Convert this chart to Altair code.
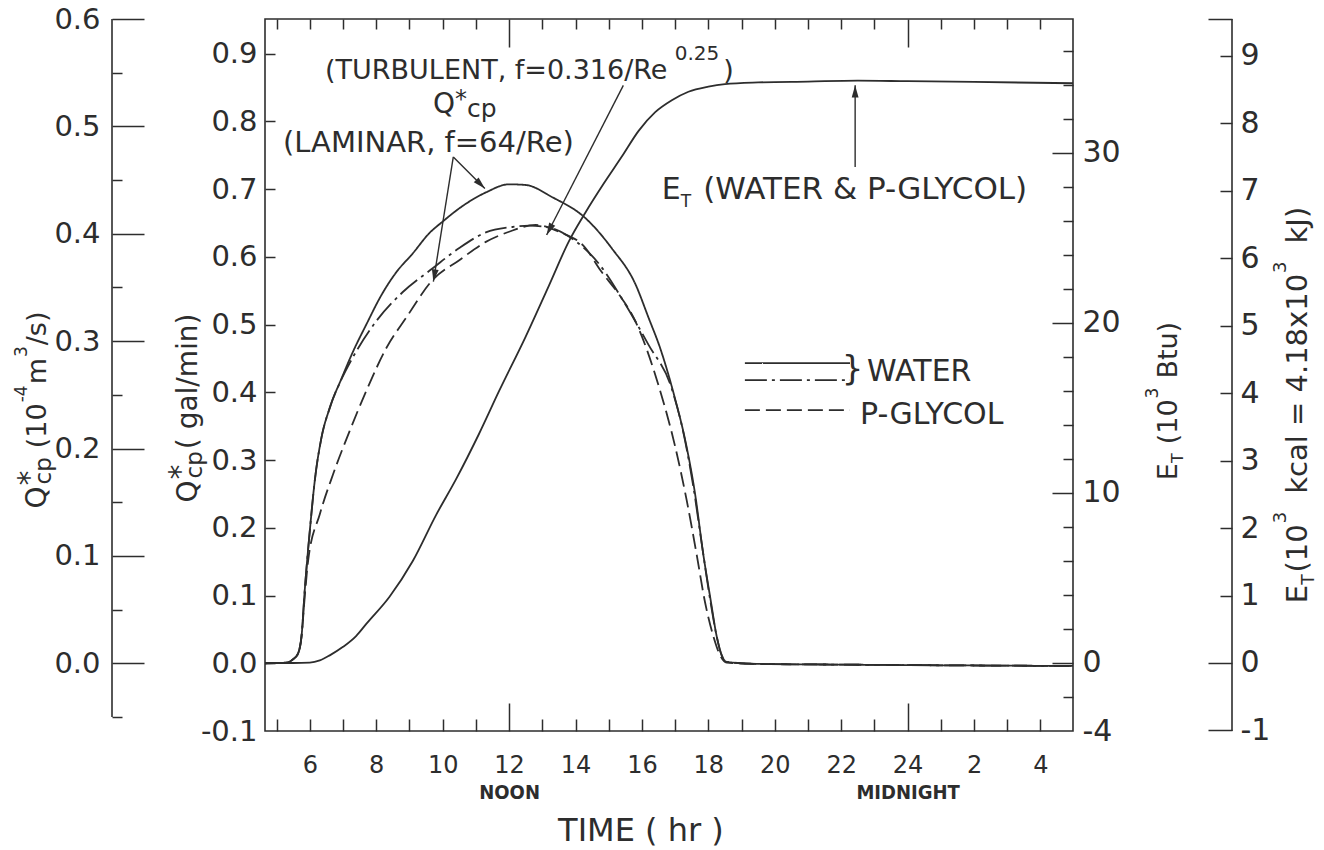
import math
import altair as alt
import pandas as pd

INK = "#2d2d2d"
FONT = "DejaVu Sans"
NARROW = "Liberation Sans Narrow, DejaVu Sans Condensed, sans-serif"

# plot area in pixels
W, H = 808, 712

# ------------------------------------------------------------------ data
# hour of day (24 = midnight, 28 = 4 a.m. of the next day)
lam_water_t = [4.65, 5.3, 5.5, 5.65, 5.75, 5.85, 6.0, 6.15, 6.35, 6.6, 6.96, 7.3, 7.7,
               8.15, 8.6, 9.1, 9.6, 10.0, 10.6, 11.3, 12.0, 12.5, 13.3, 14.3, 15.1, 15.8,
               16.2, 16.55, 17.0, 17.3, 17.6, 17.85, 18.07, 18.25, 18.4, 18.55, 19.5,
               22.0, 25.0, 28.98]
lam_water_q = [0.0, 0.001, 0.006, 0.015, 0.04, 0.11, 0.196, 0.27, 0.333, 0.377, 0.421,
               0.46, 0.50, 0.543, 0.577, 0.605, 0.635, 0.652, 0.675, 0.695, 0.707, 0.706,
               0.688, 0.657, 0.612, 0.56, 0.51, 0.465, 0.39, 0.33, 0.25, 0.16, 0.093,
               0.04, 0.012, 0.002, -0.001, -0.002, -0.003, -0.004]

turb_water_t = [4.65, 5.3, 5.5, 5.65, 5.75, 5.85, 6.0, 6.15, 6.35, 6.6, 6.96, 7.3, 8.0,
                8.8, 9.7, 10.5, 11.3, 12.1, 12.6, 13.3, 13.8, 14.7, 15.5, 16.2, 16.9,
                17.25, 17.55, 17.82, 18.05, 18.25, 18.4, 18.55, 19.5, 22.0, 25.0, 28.98]
turb_water_q = [0.0, 0.001, 0.006, 0.015, 0.04, 0.11, 0.196, 0.27, 0.333, 0.377, 0.42,
                0.452, 0.505, 0.548, 0.583, 0.613, 0.636, 0.644, 0.646, 0.642, 0.63,
                0.59, 0.53, 0.47, 0.405, 0.34, 0.26, 0.17, 0.095, 0.04, 0.012, 0.002,
                -0.001, -0.002, -0.003, -0.004]

glycol_t = [4.65, 5.3, 5.5, 5.65, 5.75, 5.85, 5.95, 6.3, 6.7, 7.2, 7.7, 8.3, 8.9, 9.7,
            10.5, 11.3, 12.0, 12.8, 13.5, 14.3, 14.75, 15.3, 15.75, 16.55, 17.0, 17.35,
            17.65, 17.9, 18.15, 18.35, 18.55, 19.5, 22.0, 25.0, 28.98]
glycol_q = [0.0, 0.001, 0.006, 0.015, 0.04, 0.1, 0.152, 0.22, 0.279, 0.343, 0.402, 0.465,
            0.51, 0.566, 0.595, 0.622, 0.637, 0.647, 0.637, 0.613, 0.58, 0.545, 0.51,
            0.402, 0.32, 0.24, 0.16, 0.09, 0.04, 0.012, 0.001, -0.001, -0.002, -0.003,
            -0.004]

energy_t = [4.65, 5.5, 6.0, 6.3, 6.6, 7.0, 7.4, 7.7, 8.4, 9.1, 9.8, 10.4, 11.1, 11.7,
            12.5, 13.2, 13.8, 14.3, 14.85, 15.4, 15.9, 16.4, 16.9, 17.4, 18.0, 18.5,
            19.5, 21.0, 22.5, 24.0, 26.0, 28.98]
energy_btu = [0.0, 0.0, 0.02, 0.15, 0.45, 0.95, 1.6, 2.3, 3.9, 6.0, 8.7, 10.8, 13.5, 16.0,
              19.2, 22.2, 24.8, 26.5, 28.2, 29.8, 31.3, 32.4, 33.1, 33.6, 33.9, 34.05,
              34.15, 34.2, 34.25, 34.22, 34.18, 34.1]

SERIES = ["water, laminar", "water, turbulent", "p-glycol, laminar"]
SERIES_DASH = [[1, 0], [22, 5, 3, 5], [15, 6]]

# legend key positions (time, flow)
legend_t0, legend_t1 = 19.10, 22.265
legend_q = [0.4430, 0.4180, 0.3737]

# arrows: tail -> tip in (time, flow)
arrow_tail_t = [10.32, 10.32, 15.44, 22.42]
arrow_tail_q = [0.7474, 0.7474, 0.853, 0.7327]
arrow_tip_t = [11.27, 9.72, 13.13, 22.42]
arrow_tip_q = [0.7008, 0.5635, 0.6322, 0.8533]

# ------------------------------------------------------------- scales / ticks
GPM_TO_1E4M3S = 0.6309         # 1 gal/min = 0.6309e-4 m^3/s
BTU_TO_KCAL = 0.252            # 10^3 Btu = 0.252e3 kcal
T_DOM = [4.65, 28.98]          # hours
M_TOP = 0.6                    # top of the plot in 10^-4 m^3/s
Q_DOM = [-0.1, M_TOP / GPM_TO_1E4M3S]   # gal/min
M_DOM = [Q_DOM[0] * GPM_TO_1E4M3S, M_TOP]
E_DOM = [-4.0, 37.88]          # 10^3 Btu
K_DOM = [v * BTU_TO_KCAL for v in E_DOM]

time_label_hours = list(range(6, 29, 2))
time_major_hours = [12, 24]
time_minor_hours = [h for h in range(5, 29) if h not in time_major_hours]
q_ticks = [round(-0.1 + 0.1 * i, 1) for i in range(11)]
btu_labels = [-4, 0, 10, 20, 30]
btu_major = [0, 10, 20, 30]
btu_minor = [v for v in range(-2, 38, 2) if v % 10]
m3_labels = [round(0.1 * i, 1) for i in range(7)]
m3_minor = [round(-0.05 + 0.1 * i, 2) for i in range(7)]
left_axis_span = [-0.05, M_TOP]
kcal_labels = list(range(-1, 10))
kcal_minor = list(range(1, 10))
kcal_major = [-1, 0, K_DOM[1]]

LEFT_AXIS_X = -153     # outer left axis, relative to plot area
RIGHT_AXIS_X = 967     # outer right axis, relative to plot area


def scale(dom):
    return alt.Scale(domain=dom, nice=False, zero=False)


def px(t):
    return (t - T_DOM[0]) / (T_DOM[1] - T_DOM[0]) * W


def py(q):
    return (Q_DOM[1] - q) / (Q_DOM[1] - Q_DOM[0]) * H


def one(v=0.0):
    return alt.Data(values=[{"v": v}])


def axis(**kw):
    base = dict(title=None, grid=False, domain=False, labelOverlap=False, labelFlush=False)
    base.update(kw)
    return alt.Axis(**base)


def ticks_only(orient, offset, values, size):
    return axis(orient=orient, offset=offset, values=values, ticks=True, tickSize=size,
                labels=False, tickColor=INK, tickWidth=1.5)


def y_holder(dom, ax):
    return alt.Chart(one(dom[0])).mark_point(opacity=0).encode(
        y=alt.Y("v:Q", scale=scale(dom), axis=ax))


def x_holder(ax):
    return alt.Chart(one(T_DOM[0])).mark_point(opacity=0).encode(
        x=alt.X("v:Q", scale=scale(T_DOM), axis=ax))


# approximate DejaVu Sans advance widths (em) for laying out mixed-size text
DJV = {" ": .318, "(": .390, ")": .390, "*": .5, ",": .318, "-": .361, ".": .318,
       "/": .337, "=": .838, "&": .780, "A": .684, "B": .686, "C": .698, "E": .632,
       "G": .775, "I": .295, "L": .557, "M": .863, "N": .748, "O": .787, "P": .603,
       "Q": .787, "R": .695, "T": .611, "U": .732, "W": .989, "Y": .611, "J": .295,
       "a": .613, "c": .550, "e": .615, "f": .352, "g": .635, "h": .634, "i": .278,
       "k": .579, "l": .278, "m": .974, "n": .634, "p": .635, "r": .411, "s": .521,
       "t": .392, "u": .634, "x": .592}


def tw(s, size):
    return sum(DJV.get(c, .636) for c in s) * size


def rich(pieces, where, angle=0, center=False):
    """pieces: (text, size, baseline shift, kern before, advances)"""
    data, enc = where
    total = sum(k + (tw(s, z) if adv else 0) for s, z, dy, k, adv in pieces)
    pos = -total / 2 if center else 0.0
    out = []
    for s, z, dy, k, adv in pieces:
        pos += k
        out.append(alt.Chart(data).mark_text(
            text=s, font=FONT, fontSize=z, color=INK, align="left",
            baseline="alphabetic", angle=angle, dx=pos, dy=dy).encode(**enc))
        if adv:
            pos += tw(s, z)
    return out


def at_px(x, y):
    return one(), dict(x=alt.value(x), y=alt.value(y))


def at_data(t, q):
    return (alt.Data(values=[{"t": t, "q": q}]),
            dict(x=alt.X("t:Q", scale=scale(T_DOM), axis=None),
                 y=alt.Y("q:Q", scale=scale(Q_DOM), axis=None)))


dash_scale = alt.Scale(domain=SERIES, range=SERIES_DASH)
minus_fix = "replace(format(datum.value, '{}'), '\u2212', '-')"

# ------------------------------------------------------------------ curves
df_q = pd.DataFrame({
    "t": lam_water_t + turb_water_t + glycol_t,
    "q": lam_water_q + turb_water_q + glycol_q,
    "s": [SERIES[0]] * len(lam_water_t) + [SERIES[1]] * len(turb_water_t)
         + [SERIES[2]] * len(glycol_t),
})
q_lines = alt.Chart(df_q).mark_line(interpolate="monotone", strokeWidth=1.8, color=INK).encode(
    x=alt.X("t:Q", scale=scale(T_DOM), axis=axis(
        orient="bottom", values=time_label_hours,
        labelExpr="'' + (datum.value > 24 ? datum.value - 24 : datum.value)",
        labelFontSize=24, labelBaseline="alphabetic", labelPadding=41,
        ticks=False, tickSize=0)),
    y=alt.Y("q:Q", scale=scale(Q_DOM), axis=axis(
        orient="left", values=q_ticks, labelExpr=minus_fix.format(".1f"),
        labelFontSize=29, labelPadding=8, ticks=False, tickSize=0)),
    strokeDash=alt.StrokeDash("s:N", scale=dash_scale, legend=None),
)

df_e = pd.DataFrame({"t": energy_t, "e": energy_btu})
e_line = alt.Chart(df_e).mark_line(interpolate="monotone", strokeWidth=1.8, color=INK).encode(
    x=alt.X("t:Q", scale=scale(T_DOM), axis=None),
    y=alt.Y("e:Q", scale=scale(E_DOM), axis=axis(
        orient="right", values=btu_labels, labelExpr=minus_fix.format("d"),
        labelFontSize=30, labelPadding=9, ticks=False, tickSize=0)),
)

# ------------------------------------------------------------------ legend key
df_leg = pd.DataFrame({"t0": [legend_t0] * 3, "t1": [legend_t1] * 3,
                       "q": legend_q, "s": SERIES})
legend_lines = alt.Chart(df_leg).mark_rule(strokeWidth=1.8, color=INK).encode(
    x=alt.X("t0:Q", scale=scale(T_DOM), axis=None), x2="t1:Q",
    y=alt.Y("q:Q", scale=scale(Q_DOM), axis=None),
    strokeDash=alt.StrokeDash("s:N", scale=dash_scale, legend=None),
)

# ------------------------------------------------------------------ arrows
angles = []
for t0, q0, t1, q1 in zip(arrow_tail_t, arrow_tail_q, arrow_tip_t, arrow_tip_q):
    dx, dy = px(t1) - px(t0), py(q1) - py(q0)
    angles.append(math.degrees(math.atan2(dx, -dy)) % 360)
df_arrow = pd.DataFrame({"t0": arrow_tail_t, "q0": arrow_tail_q,
                         "t1": arrow_tip_t, "q1": arrow_tip_q, "a": angles})
arrow_shafts = alt.Chart(df_arrow).mark_rule(strokeWidth=1.4, color=INK).encode(
    x=alt.X("t0:Q", scale=scale(T_DOM), axis=None), x2="t1:Q",
    y=alt.Y("q0:Q", scale=scale(Q_DOM), axis=None), y2="q1:Q",
)
arrow_heads = alt.Chart(df_arrow).mark_point(
    shape="M0,0L-0.28,1L0.28,1Z", filled=True, size=600, color=INK, opacity=1
).encode(
    x=alt.X("t1:Q", scale=scale(T_DOM), axis=None),
    y=alt.Y("q1:Q", scale=scale(Q_DOM), axis=None),
    angle=alt.Angle("a:Q", scale=None),
)

# ------------------------------------------------------------------ axis furniture
axis_layers = [
    # inward ticks along the frame
    x_holder(ticks_only("top", -H, time_minor_hours, 12)),
    x_holder(ticks_only("top", -H, time_major_hours, 28)),
    x_holder(ticks_only("bottom", -H, time_minor_hours, 10)),
    x_holder(ticks_only("bottom", -H, time_major_hours, 28)),
    y_holder(Q_DOM, ticks_only("right", -W, q_ticks[1:], 10)),
    y_holder(E_DOM, ticks_only("left", -W, btu_minor, 10)),
    y_holder(E_DOM, ticks_only("left", -W, btu_major, 21)),
    # NOON / MIDNIGHT
    x_holder(axis(orient="bottom", values=time_major_hours,
                  labelExpr="datum.value == 12 ? 'NOON' : 'MIDNIGHT'",
                  labelFont=NARROW, labelFontWeight="bold", labelFontSize=20,
                  labelBaseline="alphabetic", labelPadding=67, ticks=False, tickSize=0)),
    # outer left axis: 10^-4 m^3/s
    alt.Chart(alt.Data(values=[{"a": left_axis_span[0], "b": left_axis_span[1]}]))
    .mark_rule(color=INK, strokeWidth=1.6)
    .encode(x=alt.value(LEFT_AXIS_X),
            y=alt.Y("a:Q", scale=scale(M_DOM), axis=None), y2="b:Q"),
    y_holder(M_DOM, ticks_only("right", LEFT_AXIS_X - W, m3_minor, 10)),
    y_holder(M_DOM, ticks_only("right", LEFT_AXIS_X - W, m3_labels, 32)),
    y_holder(M_DOM, axis(orient="left", offset=-LEFT_AXIS_X, values=m3_labels,
                         labelExpr=minus_fix.format(".1f"), labelFontSize=29,
                         labelPadding=12, ticks=False, tickSize=0)),
    # outer right axis: 10^3 kcal
    alt.Chart(alt.Data(values=[{"a": K_DOM[0], "b": K_DOM[1]}]))
    .mark_rule(color=INK, strokeWidth=1.6)
    .encode(x=alt.value(RIGHT_AXIS_X),
            y=alt.Y("a:Q", scale=scale(K_DOM), axis=None), y2="b:Q"),
    y_holder(K_DOM, ticks_only("left", -RIGHT_AXIS_X, kcal_minor, 12)),
    y_holder(K_DOM, ticks_only("left", -RIGHT_AXIS_X, kcal_major, 24)),
    y_holder(K_DOM, axis(orient="right", offset=RIGHT_AXIS_X - W, values=kcal_labels,
                         labelExpr=minus_fix.format("d"), labelFontSize=30,
                         labelPadding=8, ticks=False, tickSize=0)),
]

# ------------------------------------------------------------------ text
SUP, SUB = -19, 7
SP = 9   # width of a word space at ~28 px
texts = []
# axis titles (rotated)
texts += rich([("Q", 28, 0, 0, True), ("*", 30, -7, 1, False), ("cp", 23, 5, 1, True),
               ("(10", 27, 0, SP, True), ("-4", 17, SUP, 1, True), ("m", 27, 0, 1, True),
               ("3", 17, SUP, 1, True), ("/s)", 27, 0, 1, True)],
              at_px(-219, 391), angle=270, center=True)
texts += rich([("Q", 28, 0, 0, True), ("*", 30, -7, 1, False), ("cp", 23, 5, 1, True),
               ("(", 28, 0, 2, True), ("gal/min)", 28, 0, SP, True)],
              at_px(-68, 389), angle=270, center=True)
texts += rich([("E", 27, 0, 0, True), ("T", 16, 6, 0, True), ("(10", 27, 0, SP, True),
               ("3", 17, SUP, 1, True), ("Btu)", 27, 0, SP, True)],
              at_px(912, 382), angle=270, center=True)
texts += rich([("E", 29, 0, 0, True), ("T", 17, 7, 0, True), ("(10", 29, 0, 2, True),
               ("3", 18, -21, 1, True), ("kcal = 4.18x10", 29, 0, 2 * SP, True),
               ("3", 18, -21, 1, True), ("kJ)", 29, 0, 2 * SP, True)],
              at_px(1042, 386), angle=270, center=True)
texts += rich([("TIME ( hr )", 32, 0, 0, True)], at_px(376, 822), center=True)

# annotations inside the plot
texts += rich([("(TURBULENT, f=0.316/Re", 27, 0, 0, True), ("0.25", 20, SUP, 6, True),
               (")", 27, 0, 4, True)], at_data(6.457, 0.8622))
texts += rich([("Q", 28, 0, 0, True), ("*", 24, -6, 0, True), ("cp", 25, 4, 0, True)],
              at_data(9.71, 0.8120))
texts += rich([("(LAMINAR, f=64/Re)", 29, 0, 0, True)], at_data(5.19, 0.7548))
texts += rich([("E", 30, 0, 0, True), ("T", 17, 8, 0, True),
               ("(WATER & P-GLYCOL)", 31, 0, 12, True)], at_data(16.60, 0.6856))
texts += rich([("WATER", 30, 0, 0, True)], at_data(22.78, 0.4164))
texts += rich([("P-GLYCOL", 30, 0, 0, True)], at_data(22.57, 0.3531))
brace_data, brace_enc = at_data(22.02, 0.4334)
texts.append(alt.Chart(brace_data).mark_text(
    text="}", font=FONT, fontSize=34, color=INK, align="left", baseline="middle"
).encode(**brace_enc))

# ------------------------------------------------------------------ assemble
chart = alt.layer(
    q_lines, e_line, legend_lines, arrow_shafts, arrow_heads, *axis_layers, *texts
).resolve_scale(
    x="independent", y="independent"
).properties(
    width=W, height=H,
    padding={"left": 265, "top": 19, "right": 1324 - 265 - W, "bottom": 850 - 19 - H},
    autosize=alt.AutoSizeParams(type="none"),
    background="white",
).configure_view(
    stroke=INK, strokeWidth=1.6
).configure_axis(
    labelFont=FONT, labelColor=INK, tickColor=INK, tickWidth=1.5
)

chart.save("out.html", embed_options={"renderer": "svg", "actions": False})
